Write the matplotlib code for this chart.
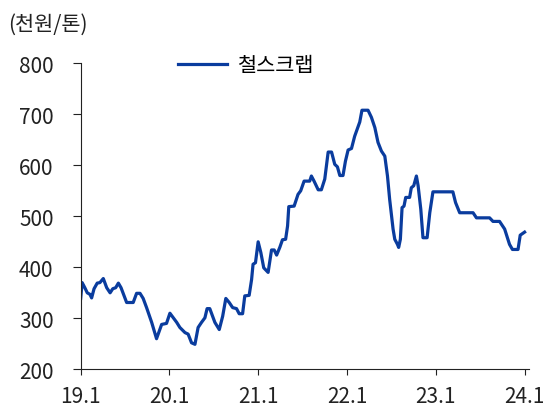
import matplotlib
matplotlib.use("Agg")
import matplotlib.pyplot as plt
import pandas as pd

plt.rcParams["font.family"] = ["Noto Sans CJK KR", "DejaVu Sans"]

# 철스크랩 가격 (천원/톤), 그림에서 읽은 값
dates = [
    "2019-01-01", "2019-01-07", "2019-01-18", "2019-01-28", "2019-02-08", "2019-02-15",
    "2019-02-25", "2019-03-10", "2019-03-21", "2019-04-04", "2019-04-18", "2019-05-02",
    "2019-05-13", "2019-05-25", "2019-06-05", "2019-06-16", "2019-07-02", "2019-07-09",
    "2019-08-05", "2019-08-19", "2019-09-02", "2019-09-15", "2019-09-29", "2019-10-20",
    "2019-11-09", "2019-11-30", "2019-12-20", "2020-01-03", "2020-01-17", "2020-01-31",
    "2020-02-13", "2020-03-05", "2020-03-18", "2020-04-01", "2020-04-15", "2020-04-28",
    "2020-05-12", "2020-05-26", "2020-06-04", "2020-06-15", "2020-07-06", "2020-07-24",
    "2020-08-07", "2020-08-20", "2020-09-03", "2020-09-17", "2020-10-03", "2020-10-14",
    "2020-10-28", "2020-11-06", "2020-11-24", "2020-12-04", "2020-12-10", "2020-12-20",
    "2020-12-31", "2021-01-11", "2021-01-23", "2021-02-10", "2021-02-24", "2021-03-07",
    "2021-03-17", "2021-03-30", "2021-04-10", "2021-04-23", "2021-05-01", "2021-05-06",
    "2021-05-28", "2021-06-13", "2021-06-24", "2021-07-08", "2021-07-31", "2021-08-07",
    "2021-08-18", "2021-09-04", "2021-09-17", "2021-10-01", "2021-10-15", "2021-10-29",
    "2021-11-11", "2021-11-22", "2021-12-02", "2021-12-15", "2021-12-25", "2022-01-05",
    "2022-01-19", "2022-02-01", "2022-02-22", "2022-03-03", "2022-03-28", "2022-04-11",
    "2022-04-25", "2022-05-08", "2022-05-22", "2022-06-05", "2022-06-16", "2022-06-25",
    "2022-07-09", "2022-07-16", "2022-07-27", "2022-08-01", "2022-08-08", "2022-08-15",
    "2022-08-23", "2022-08-30", "2022-09-15", "2022-09-22", "2022-10-02", "2022-10-13",
    "2022-10-20", "2022-10-31", "2022-11-09", "2022-11-26", "2022-12-07", "2022-12-20",
    "2023-03-12", "2023-03-23", "2023-04-09", "2023-06-03", "2023-06-17", "2023-08-10",
    "2023-08-24", "2023-09-20", "2023-10-11", "2023-10-31", "2023-11-12", "2023-12-05",
    "2023-12-14", "2024-01-01",
]
scrap = [
    339, 370, 360, 350, 347, 340,
    358, 369, 370, 378, 360, 350,
    358, 360, 369, 360, 340, 331,
    331, 349, 349, 339, 321, 292,
    260, 288, 290, 310, 301, 292,
    282, 272, 269, 252, 249, 282,
    292, 301, 319, 319, 292, 278,
    304, 339, 331, 321, 319, 309,
    309, 344, 345, 376, 406, 409,
    450, 429, 399, 390, 434, 434,
    424, 439, 454, 455, 481, 519,
    520, 543, 550, 569, 569, 579,
    569, 552, 552, 573, 626, 626,
    602, 597, 580, 580, 608, 630,
    633, 657, 685, 708, 708, 694,
    674, 645, 628, 618, 579, 533,
    475, 455, 445, 439, 455, 517,
    520, 537, 537, 556, 560, 579,
    560, 514, 458, 458, 507, 548,
    548, 527, 507, 507, 497, 497,
    490, 490, 475, 445, 435, 435,
    463, 469,
]

tick_dates = ["2019-01-01", "2020-01-01", "2021-01-01", "2022-01-01", "2023-01-01", "2024-01-01"]
tick_labels = ["19.1", "20.1", "21.1", "22.1", "23.1", "24.1"]
y_ticks = [200, 300, 400, 500, 600, 700, 800]

x = pd.to_datetime(dates)

fig = plt.figure(figsize=(5.43, 4.06), dpi=100)
ax = fig.add_axes([0.1486, 0.0879, 0.826, 0.7537])

ax.plot(x, scrap, color="#0a3c9e", linewidth=2.3, label="철스크랩")

ax.set_xlim(pd.Timestamp("2019-01-01"), pd.Timestamp("2024-01-20"))
ax.set_ylim(200, 800)
ax.set_xticks(pd.to_datetime(tick_dates))
ax.set_xticklabels(tick_labels)
ax.set_yticks(y_ticks)

for s in ["top", "right"]:
    ax.spines[s].set_visible(False)
for s in ["left", "bottom"]:
    ax.spines[s].set_linewidth(0.8)
    ax.spines[s].set_color("#222222")

ax.tick_params(axis="y", length=5.5, width=0.8, pad=14, labelsize=15, colors="#222222")
ax.tick_params(axis="x", length=4.5, width=0.8, pad=7, labelsize=15, colors="#222222")

fig.text(8 / 543, 1 - 25 / 406, "(천원/톤)", fontsize=15, va="center", ha="left", color="#222222")

ax.legend(loc="center left", bbox_to_anchor=(177.6 / 543, 1 - 66 / 406),
          bbox_transform=fig.transFigure, frameon=False, fontsize=15,
          handlelength=2.37, handletextpad=0.48, borderpad=0, borderaxespad=0)

fig.savefig("out.png", dpi=100)
